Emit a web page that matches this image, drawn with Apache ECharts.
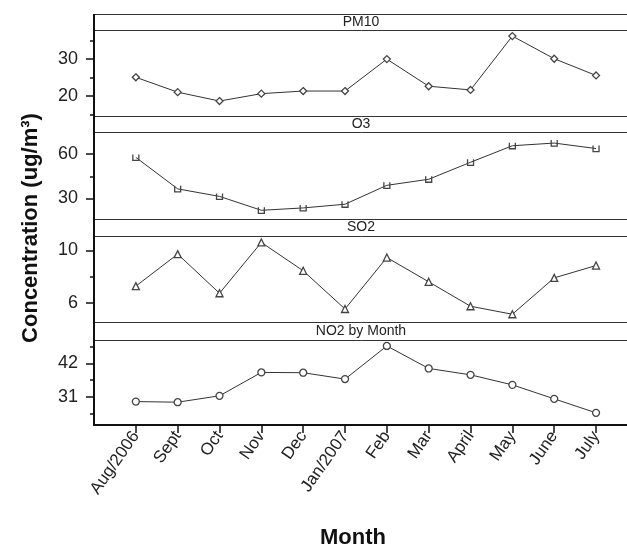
<!DOCTYPE html>
<html>
<head>
<meta charset="utf-8">
<script src="https://cdn.jsdelivr.net/npm/echarts@6/dist/echarts.min.js"></script>
<style>
  html, body { margin: 0; padding: 0; background: #fff; }
  #chart { width: 627px; height: 546px; }
</style>
</head>
<body>
<div id="chart"></div>
<script>
// 月份（类别）
const months = ['Aug/2006', 'Sept', 'Oct', 'Nov', 'Dec', 'Jan/2007', 'Feb', 'Mar', 'April', 'May', 'June', 'July'];

// 各污染物浓度
const pm10 = [25.1, 21.1, 18.7, 20.7, 21.4, 21.4, 30.0, 22.7, 21.7, 36.2, 30.1, 25.6];
const o3 = [57.8, 36.5, 31.4, 22.0, 23.6, 26.1, 38.9, 43.0, 54.5, 65.7, 67.5, 63.8];
const so2 = [7.28, 9.72, 6.74, 10.61, 8.45, 5.54, 9.46, 7.61, 5.75, 5.14, 7.91, 8.85];
const no2 = [29.4, 29.2, 31.3, 39.0, 38.9, 36.8, 47.7, 40.3, 38.2, 34.9, 30.3, 25.7];

// 刻度
const pm10Ticks = [20, 30];
const pm10Minor = [15, 25, 35];
const o3Ticks = [30, 60];
const o3Minor = [45];
const so2Ticks = [6, 10];
const so2Minor = [8];
const no2Ticks = [31, 42];
const no2Minor = [25.5, 36.5, 47.5];

const panels = [
  { name: 'PM10', data: pm10, ticks: pm10Ticks, minor: pm10Minor, min: 14.68, max: 37.84, symbol: 'diamond', size: 7, top: 30, height: 86, strip: 14 },
  { name: 'O3', data: o3, ticks: o3Ticks, minor: o3Minor, min: 16.1, max: 75.0, symbol: 'path://M0,0L0,10L10,10L10,0', size: 6, top: 132, height: 87, strip: 116 },
  { name: 'SO2', data: so2, ticks: so2Ticks, minor: so2Minor, min: 4.55, max: 11.1, symbol: 'triangle', size: 7, top: 236, height: 86, strip: 219 },
  { name: 'NO2 by Month', data: no2, ticks: no2Ticks, minor: no2Minor, min: 21.7, max: 49.66, symbol: 'circle', size: 7, top: 340, height: 85, strip: 322 }
];

(function () {
  const chart = echarts.init(document.getElementById('chart'), null, { renderer: 'canvas' });
  const font = '"Liberation Sans", Arial, sans-serif';
  const grid = [], xAxis = [], yAxis = [], series = [], graphic = [];
  const idx = months.map(function (m, k) { return k; });

  panels.forEach(function (p, i) {
    grid.push({ left: 94, right: 0, top: p.top, height: p.height, show: false });
    const last = i === panels.length - 1;
    xAxis.push({
      type: 'value', gridIndex: i, min: -1, max: 11.74,
      show: last,
      axisLine: { show: last, onZero: false, lineStyle: { color: '#111', width: 2 } },
      axisTick: { show: last, length: 8, customValues: idx, lineStyle: { color: '#111', width: 1.5 } },
      axisLabel: {
        show: last, rotate: 55, margin: 8, fontSize: 17, color: '#222', fontFamily: font,
        customValues: idx,
        formatter: function (v) { return months[Math.round(v)]; }
      },
      splitLine: { show: false }
    });
    // 主刻度与标签
    yAxis.push({
      type: 'value', gridIndex: i, min: p.min, max: p.max, position: 'left',
      axisLine: { show: true, onZero: false, lineStyle: { color: '#111', width: 2 } },
      axisTick: { show: true, length: 8, customValues: p.ticks, lineStyle: { color: '#111', width: 1.5 } },
      axisLabel: { customValues: p.ticks, margin: 16, fontSize: 18, color: '#222', fontFamily: font },
      splitLine: { show: false }
    });
    // 次刻度
    yAxis.push({
      type: 'value', gridIndex: i, min: p.min, max: p.max, position: 'left',
      axisLine: { show: false, onZero: false },
      axisTick: { show: true, length: 4, customValues: p.minor, lineStyle: { color: '#111', width: 1.5 } },
      axisLabel: { show: false },
      splitLine: { show: false }
    });
    series.push({
      type: 'line', name: p.name, xAxisIndex: i, yAxisIndex: i * 2,
      data: p.data.map(function (v, k) { return [k, v]; }),
      symbol: p.symbol, symbolSize: p.size, showAllSymbol: true,
      lineStyle: { color: '#333', width: 1 },
      itemStyle: { color: i === 1 ? 'transparent' : '#fff', borderColor: '#444', borderWidth: 1.3 },
      emphasis: { disabled: true }, animation: false
    });
    // 面板标题条
    graphic.push({
      type: 'rect', left: 94, top: p.strip, z: 10,
      shape: { width: 545, height: p.top - p.strip },
      style: { fill: '#fff', stroke: '#333', lineWidth: 1 }
    });
    graphic.push({
      type: 'text', x: 361, y: p.strip + (p.top - p.strip) / 2, z: 11,
      style: { text: p.name, font: '14px ' + font, fill: '#222', textAlign: 'center', textVerticalAlign: 'middle' }
    });
  });

  // 左侧粗轴线
  graphic.push({ type: 'line', z: 12, shape: { x1: 94, y1: 14, x2: 94, y2: 425 }, style: { stroke: '#111', lineWidth: 2 } });
  // 轴标题
  graphic.push({
    type: 'text', x: 31, y: 228, rotation: Math.PI / 2, z: 12,
    style: { text: 'Concentration (ug/m³)', font: 'bold 22px ' + font, fill: '#111', textAlign: 'center', textVerticalAlign: 'middle' }
  });
  graphic.push({
    type: 'text', x: 353, y: 538, z: 12,
    style: { text: 'Month', font: 'bold 22px ' + font, fill: '#111', textAlign: 'center', textVerticalAlign: 'middle' }
  });

  chart.setOption({ animation: false, grid: grid, xAxis: xAxis, yAxis: yAxis, series: series, graphic: graphic });
  window.addEventListener('resize', function () { chart.resize(); });
})();
</script>
</body>
</html>
